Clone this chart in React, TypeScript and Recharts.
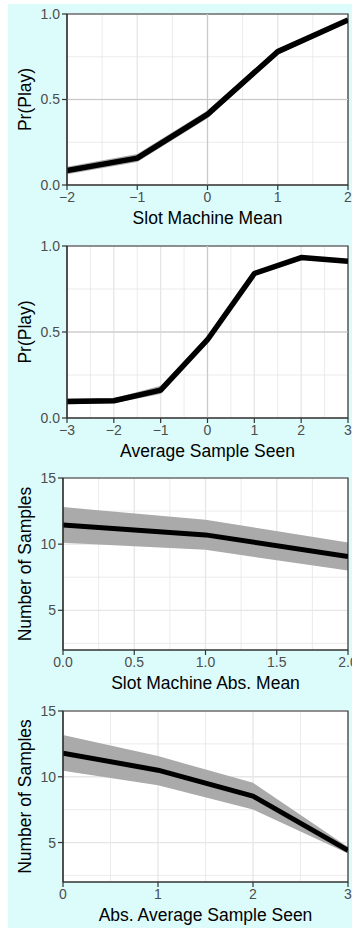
import React from 'react';
import {
  ComposedChart,
  Area,
  Line,
  XAxis,
  YAxis,
  CartesianGrid,
  ReferenceLine,
  ReferenceArea,
  Label,
} from 'recharts';

// Panel 1: Pr(Play) by slot machine mean
const meanX = [-2, -1, 0, 1, 2];
const meanPlay = [0.085, 0.157, 0.413, 0.78, 0.965];
const meanPlayLo = [0.063, 0.135, 0.39, 0.763, 0.953];
const meanPlayHi = [0.107, 0.182, 0.436, 0.797, 0.977];

// Panel 2: Pr(Play) by average sample seen
const sampleX = [-3, -2, -1, 0, 1, 2, 3];
const samplePlay = [0.096, 0.1, 0.162, 0.455, 0.84, 0.933, 0.911];
const samplePlayLo = [0.08, 0.086, 0.14, 0.44, 0.833, 0.927, 0.904];
const samplePlayHi = [0.114, 0.115, 0.187, 0.472, 0.85, 0.94, 0.919];

// Panel 3: number of samples by absolute machine mean
const absMeanX = [0, 1, 2];
const absMeanN = [11.45, 10.7, 9.06];
const absMeanLo = [10.1, 9.57, 8.0];
const absMeanHi = [12.8, 11.84, 10.12];

// Panel 4: number of samples by absolute average sample seen
const absSampleX = [0, 1, 2, 3];
const absSampleN = [11.8, 10.5, 8.53, 4.41];
const absSampleLo = [10.45, 9.36, 7.51, 4.16];
const absSampleHi = [13.17, 11.57, 9.54, 4.66];

const probTicks = [0, 0.5, 1];
const probMinor = [0.25, 0.75];
const countTicks = [5, 10, 15];
const countMinor = [2.5, 7.5, 12.5];

const FONT = '"Liberation Sans", Arial, Helvetica, sans-serif';
const AXIS = '#333333';
const TICK_TEXT = '#4d4d4d';
const GRID = '#e6e6e6';
const BAND = '#aaaaaa';

const fmtMinus = (digits: number) => (v: number) => {
  const s = Math.abs(v).toFixed(digits);
  return v < 0 ? '\u2212' + s : s;
};

type PanelProps = {
  top: number;
  plotHeight: number;
  yAxisWidth: number;
  x: number[];
  y: number[];
  lo: number[];
  hi: number[];
  xTicks: number[];
  xMinor: number[];
  xDigits: number;
  yTicks: number[];
  yMinor: number[];
  yDomain: [number, number];
  yDigits: number;
  xTitle: string;
  yTitle: string;
  refX?: number;
  refY?: number;
  lineWidth: number;
};

const CHART_W = 344;
const CHART_H = 232;
const M_TOP = 10;

const Panel: React.FC<PanelProps> = (p) => {
  const data = p.x.map((xv, i) => ({ x: xv, y: p.y[i], band: [p.lo[i], p.hi[i]] }));
  const xDomain: [number, number] = [p.xTicks[0], p.xTicks[p.xTicks.length - 1]];
  const xAxisHeight = CHART_H - M_TOP - p.plotHeight;

  const xTitle = (props: any) => {
    const vb = props.viewBox;
    return (
      <text
        x={vb.x + vb.width / 2}
        y={vb.y + 33}
        textAnchor="middle"
        dominantBaseline="central"
        fontSize={17.5}
        fontFamily={FONT}
        fill="#000"
      >
        {p.xTitle}
      </text>
    );
  };

  const yTitle = (props: any) => {
    const vb = props.viewBox;
    const cx = 17;
    const cy = vb.y + vb.height / 2;
    return (
      <text
        x={cx}
        y={cy}
        transform={`rotate(-90 ${cx} ${cy})`}
        textAnchor="middle"
        dominantBaseline="central"
        fontSize={17.5}
        fontFamily={FONT}
        fill="#000"
      >
        {p.yTitle}
      </text>
    );
  };

  return (
    <div style={{ position: 'absolute', left: 0, top: p.top }}>
      <ComposedChart
        width={CHART_W}
        height={CHART_H}
        data={data}
        margin={{ top: M_TOP, right: 4, bottom: 0, left: 0 }}
      >
        {/* minor grid carries the white panel background */}
        <CartesianGrid
          stroke={GRID}
          strokeWidth={0.8}
          fill="#ffffff"
          fillOpacity={1}
          verticalValues={p.xMinor}
          horizontalValues={p.yMinor}
        />
        <CartesianGrid
          stroke={GRID}
          strokeWidth={1.3}
          verticalValues={p.xTicks}
          horizontalValues={p.yTicks}
        />
        {p.refX !== undefined && (
          <ReferenceLine x={p.refX} stroke="#c8c8c8" strokeWidth={1.2} />
        )}
        {p.refY !== undefined && (
          <ReferenceLine y={p.refY} stroke="#c8c8c8" strokeWidth={1.2} />
        )}
        <XAxis
          dataKey="x"
          type="number"
          domain={xDomain}
          ticks={p.xTicks}
          allowDataOverflow
          height={xAxisHeight}
          interval={0}
          tickSize={5}
          tickMargin={2}
          tickFormatter={fmtMinus(p.xDigits)}
          stroke={AXIS}
          tick={{ fill: TICK_TEXT, fontSize: 14, fontFamily: FONT }}
          axisLine={{ stroke: AXIS, strokeWidth: 1.2 }}
          tickLine={{ stroke: AXIS, strokeWidth: 1.2 }}
        >
          <Label content={xTitle} />
        </XAxis>
        <YAxis
          type="number"
          domain={p.yDomain}
          ticks={p.yTicks}
          allowDataOverflow
          width={p.yAxisWidth}
          interval={0}
          tickSize={5}
          tickMargin={2}
          tickFormatter={fmtMinus(p.yDigits)}
          stroke={AXIS}
          tick={{ fill: TICK_TEXT, fontSize: 14, fontFamily: FONT }}
          axisLine={{ stroke: AXIS, strokeWidth: 1.2 }}
          tickLine={{ stroke: AXIS, strokeWidth: 1.2 }}
        >
          <Label content={yTitle} />
        </YAxis>
        <Area
          type="linear"
          dataKey="band"
          stroke="none"
          fill={BAND}
          fillOpacity={1}
          isAnimationActive={false}
          activeDot={false}
        />
        <Line
          type="linear"
          dataKey="y"
          stroke="#000000"
          strokeWidth={p.lineWidth}
          strokeLinejoin="round"
          dot={false}
          activeDot={false}
          isAnimationActive={false}
        />
        <ReferenceArea
          x1={xDomain[0]}
          x2={xDomain[1]}
          y1={p.yDomain[0]}
          y2={p.yDomain[1]}
          fill="none"
          stroke={AXIS}
          strokeWidth={1.2}
        />
      </ComposedChart>
    </div>
  );
};

export default function App() {
  return (
    <div
      style={{
        position: 'absolute',
        left: 8,
        top: 4,
        width: 344,
        height: 924,
        background: '#dcfcfc',
        overflow: 'hidden',
      }}
    >
      <Panel
        top={0}
        plotHeight={171}
        yAxisWidth={59}
        x={meanX}
        y={meanPlay}
        lo={meanPlayLo}
        hi={meanPlayHi}
        xTicks={[-2, -1, 0, 1, 2]}
        xMinor={[-1.5, -0.5, 0.5, 1.5]}
        xDigits={0}
        yTicks={probTicks}
        yMinor={probMinor}
        yDomain={[0, 1]}
        yDigits={1}
        xTitle="Slot Machine Mean"
        yTitle="Pr(Play)"
        refX={0}
        refY={0.5}
        lineWidth={5.5}
      />
      <Panel
        top={232}
        plotHeight={172}
        yAxisWidth={59}
        x={sampleX}
        y={samplePlay}
        lo={samplePlayLo}
        hi={samplePlayHi}
        xTicks={[-3, -2, -1, 0, 1, 2, 3]}
        xMinor={[-2.5, -1.5, -0.5, 0.5, 1.5, 2.5]}
        xDigits={0}
        yTicks={probTicks}
        yMinor={probMinor}
        yDomain={[0, 1]}
        yDigits={1}
        xTitle="Average Sample Seen"
        yTitle="Pr(Play)"
        refX={0}
        refY={0.5}
        lineWidth={5.5}
      />
      <Panel
        top={464}
        plotHeight={172}
        yAxisWidth={55}
        x={absMeanX}
        y={absMeanN}
        lo={absMeanLo}
        hi={absMeanHi}
        xTicks={[0, 0.5, 1, 1.5, 2]}
        xMinor={[0.25, 0.75, 1.25, 1.75]}
        xDigits={1}
        yTicks={countTicks}
        yMinor={countMinor}
        yDomain={[2, 15]}
        yDigits={0}
        xTitle="Slot Machine Abs. Mean"
        yTitle="Number of Samples"
        lineWidth={5}
      />
      <Panel
        top={697}
        plotHeight={171}
        yAxisWidth={55}
        x={absSampleX}
        y={absSampleN}
        lo={absSampleLo}
        hi={absSampleHi}
        xTicks={[0, 1, 2, 3]}
        xMinor={[0.5, 1.5, 2.5]}
        xDigits={0}
        yTicks={countTicks}
        yMinor={countMinor}
        yDomain={[2, 15]}
        yDigits={0}
        xTitle="Abs. Average Sample Seen"
        yTitle="Number of Samples"
        lineWidth={5}
      />
    </div>
  );
}
